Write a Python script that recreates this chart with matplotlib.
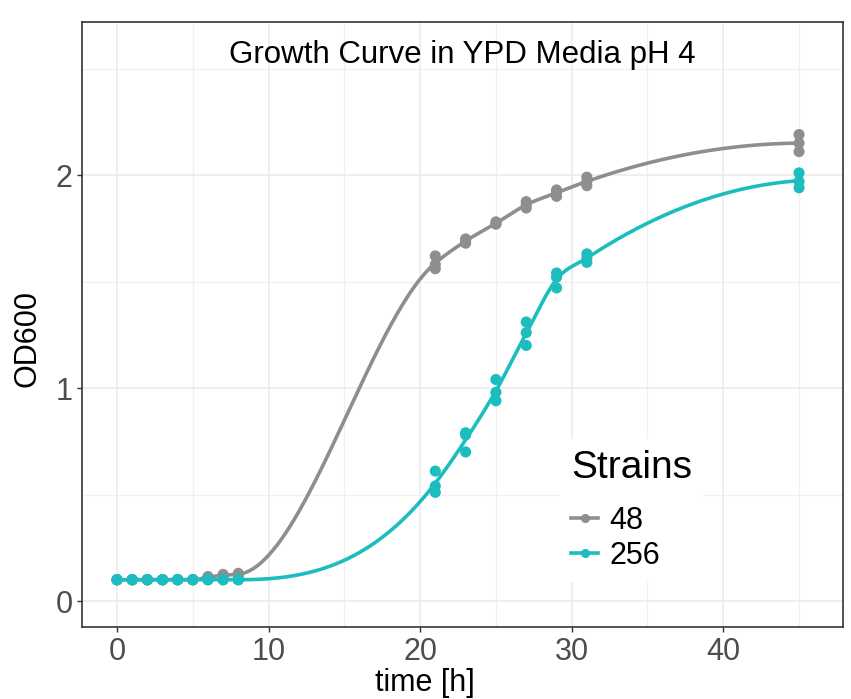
import numpy as np
import matplotlib
matplotlib.use("Agg")
import matplotlib.pyplot as plt
from matplotlib.lines import Line2D

plt.rcParams['font.family'] = ['Liberation Sans', 'DejaVu Sans']

# tiempos de medicion [h]
time = [0, 1, 2, 3, 4, 5, 6, 7, 8, 21, 23, 25, 27, 29, 31, 45]

# replicas de OD600, cepa 48
od_48_r1 = [0.10, 0.10, 0.10, 0.10, 0.10, 0.10, 0.110, 0.120, 0.125, 1.62, 1.70, 1.78, 1.875, 1.93, 1.99, 2.19]
od_48_r2 = [0.10, 0.10, 0.10, 0.10, 0.10, 0.10, 0.115, 0.125, 0.130, 1.58, 1.69, 1.77, 1.860, 1.92, 1.97, 2.15]
od_48_r3 = [0.10, 0.10, 0.10, 0.10, 0.10, 0.10, 0.110, 0.120, 0.120, 1.56, 1.68, 1.77, 1.845, 1.90, 1.95, 2.11]

# replicas de OD600, cepa 256
od_256_r1 = [0.10, 0.10, 0.10, 0.10, 0.10, 0.10, 0.10, 0.10, 0.10, 0.61, 0.79, 1.04, 1.31, 1.54, 1.63, 2.01]
od_256_r2 = [0.10, 0.10, 0.10, 0.10, 0.10, 0.10, 0.10, 0.10, 0.10, 0.54, 0.78, 0.98, 1.26, 1.52, 1.61, 1.97]
od_256_r3 = [0.10, 0.10, 0.10, 0.10, 0.10, 0.10, 0.10, 0.10, 0.10, 0.51, 0.70, 0.94, 1.20, 1.47, 1.59, 1.94]

strains = ["48", "256"]
colors = ["#8E8E8E", "#1CBDBE"]
replicas = [[od_48_r1, od_48_r2, od_48_r3], [od_256_r1, od_256_r2, od_256_r3]]


# curva suave (hermite cubica monotona) por las medias
def smooth_curve(t, y, n=500):
    t = np.asarray(t, float)
    y = np.asarray(y, float)
    h = np.diff(t)
    delta = np.diff(y) / h
    d = np.zeros_like(y)
    d[1:-1] = (h[1:] * delta[:-1] + h[:-1] * delta[1:]) / (h[:-1] + h[1:])
    d[0] = ((2 * h[0] + h[1]) * delta[0] - h[0] * delta[1]) / (h[0] + h[1])
    d[-1] = ((2 * h[-1] + h[-2]) * delta[-1] - h[-1] * delta[-2]) / (h[-1] + h[-2])
    for k in range(len(h)):
        if delta[k] == 0:
            d[k] = 0
            d[k + 1] = 0
            continue
        a = d[k] / delta[k]
        b = d[k + 1] / delta[k]
        if a < 0:
            d[k] = 0
            a = 0
        if b < 0:
            d[k + 1] = 0
            b = 0
        if a * a + b * b > 9:
            tau = 3 / np.sqrt(a * a + b * b)
            d[k] = tau * a * delta[k]
            d[k + 1] = tau * b * delta[k]
    xs = np.linspace(t[0], t[-1], n)
    k = np.clip(np.searchsorted(t, xs) - 1, 0, len(h) - 1)
    s = (xs - t[k]) / h[k]
    h00 = 2 * s**3 - 3 * s**2 + 1
    h10 = s**3 - 2 * s**2 + s
    h01 = -2 * s**3 + 3 * s**2
    h11 = s**3 - s**2
    ys = h00 * y[k] + h10 * h[k] * d[k] + h01 * y[k + 1] + h11 * h[k] * d[k + 1]
    return xs, ys


fig = plt.figure(figsize=(8.51, 6.99), dpi=100)
ax = fig.add_axes([0.0969, 0.103, 0.8937, 0.866])

for name, color, reps in zip(strains, colors, replicas):
    media = np.mean(np.array(reps), axis=0)
    xs, ys = smooth_curve(time, media)
    ax.plot(xs, ys, color=color, lw=2.6, zorder=3)
    for r in reps:
        ax.scatter(time, r, s=64, color=color, edgecolors='none', zorder=4)

ax.set_xlim(-2.28, 47.9)
ax.set_ylim(-0.122, 2.72)
ax.set_xticks([0, 10, 20, 30, 40])
ax.set_yticks([0, 1, 2])
ax.set_xticks([5, 15, 25, 35, 45], minor=True)
ax.set_yticks([0.5, 1.5, 2.5], minor=True)
ax.grid(which='major', color='#EBEBEB', lw=1.2, zorder=0)
ax.grid(which='minor', color='#F0F0F0', lw=0.9, zorder=0)
ax.set_axisbelow(True)

for sp in ax.spines.values():
    sp.set_color('#333333')
    sp.set_linewidth(1.2)
ax.tick_params(which='major', length=3.6, width=1.0, color='#333333',
               labelsize=22, labelcolor='#4D4D4D', pad=3.5)
ax.tick_params(which='minor', length=0)

ax.set_xlabel("time [h]", fontsize=22)
ax.set_ylabel("OD600", fontsize=22)
ax.xaxis.set_label_coords(0.45, -0.067)
ax.yaxis.set_label_coords(-0.052, 0.476)

ax.text(0.5, 0.945, "Growth Curve in YPD Media pH 4", transform=ax.transAxes,
        ha='center', va='center', fontsize=22.5)

handles = [Line2D([], [], color=c, lw=2.6, marker='o', markersize=5.5) for c in colors]
leg = ax.legend(handles, strains, title="Strains", loc='upper left',
                bbox_to_anchor=(0.608, 0.335), fontsize=22, title_fontsize=28,
                frameon=True, fancybox=False, edgecolor='none', facecolor='white',
                framealpha=1, handlelength=0.9, handletextpad=0.35,
                labelspacing=0.18, borderpad=0.35)
leg._legend_box.align = "left"
leg._legend_box.sep = 14

fig.savefig("out.png", dpi=100)
